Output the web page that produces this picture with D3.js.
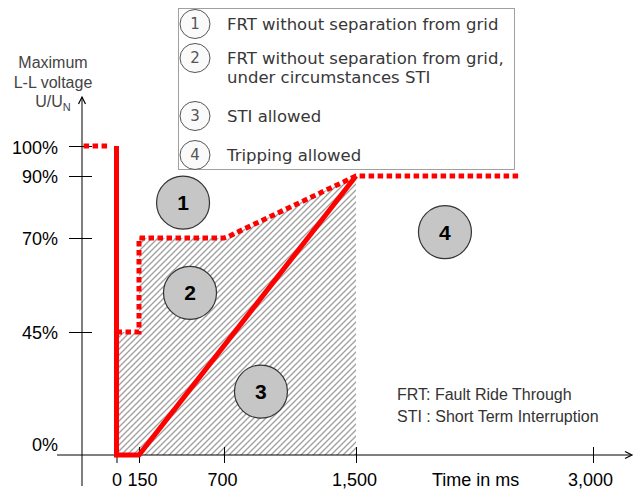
<!DOCTYPE html>
<html><head><meta charset="utf-8">
<script src="https://cdn.jsdelivr.net/npm/d3@7"></script>
<style>body{margin:0;background:#fff}svg{display:block}</style>
</head><body>
<svg id="c" width="640" height="490"></svg>
<script>
// ---- data ----
const xTicks = [0, 150, 700, 1500, 3000];
const yTicks = [0, 45, 70, 90, 100];
const solidLimit = [[0, 100], [0, 0], [150, 0], [1500, 90]];
const dottedPre = [[-210, 100], [-52, 100]];
const dottedLimit = [[0, 45], [150, 45], [150, 70], [700, 70], [730, 70.5], [770, 71.6], [1500, 90], [2540, 90]];
const hatchTop = [[0, 45], [150, 45], [150, 70], [700, 70], [730, 70.5], [770, 71.6], [1500, 90]];
const zoneLabels = ["1", "2", "3", "4"];
const zoneX = [435, 480, 924, 2063];
const zoneY = [81.4, 55.4, 23.2, 71.9];
const legendNums = ["1", "2", "3", "4"];
const legendLines = [["FRT without separation from grid"], ["FRT without separation from grid,", "under circumstances STI"], ["STI allowed"], ["Tripping allowed"]];
const notes = ["FRT: Fault Ride Through", "STI : Short Term Interruption"];

const svg = d3.select("#c");
const x = d3.scaleLinear().domain([-220, 0, 150, 700, 1500, 3000]).range([82, 116.5, 139, 224, 356, 593]);
const y = d3.scaleLinear().domain([0, 45, 70, 90, 100]).range([455, 332, 238, 176, 146]);

// hatch pattern
const defs = svg.append("defs");
const pat = defs.append("pattern").attr("id", "hatch").attr("patternUnits", "userSpaceOnUse")
  .attr("width", 6).attr("height", 6);
pat.append("path").attr("d", "M-1,7 L7,-1 M-1,1 L1,-1 M5,7 L7,5")
  .attr("stroke", "#a0a0a0").attr("stroke-width", 1.35);

const area = d3.area().x(d => x(d[0])).y0(y(0)).y1(d => y(d[1]));
svg.append("path").datum(hatchTop).attr("d", area).attr("fill", "url(#hatch)");

// axes
const font = "'Liberation Sans', Arial, sans-serif";
const xAxis = svg.append("g").attr("transform", `translate(0,${y(0)})`)
  .call(d3.axisBottom(x).tickValues(xTicks).tickFormat(d3.format(",")).tickSize(8).tickPadding(10));
xAxis.select(".domain").remove();
xAxis.selectAll(".tick line").attr("y1", -8).attr("y2", 8).attr("stroke", "#000");
xAxis.selectAll(".tick text").attr("font-family", font).attr("font-size", 18).attr("fill", "#000")
  .attr("dx", d => d === 150 ? 3 : (d === 700 ? -2 : (d === 1500 ? -2 : (d === 3000 ? -3 : 0))));

const yAxis = svg.append("g").attr("transform", `translate(${x(-220)},0)`)
  .call(d3.axisLeft(y).tickValues(yTicks).tickFormat(d => d + "%").tickSize(13).tickPadding(11));
yAxis.select(".domain").remove();
yAxis.selectAll(".tick line").attr("x1", -13).attr("x2", 10).attr("stroke", "#000")
  .attr("opacity", d => d === 0 ? 0 : 1);
yAxis.selectAll(".tick text").attr("font-family", font).attr("font-size", 18).attr("fill", "#000")
  .attr("dy", d => d === 0 ? "-0.25em" : (d === 100 ? "0.42em" : "0.35em"));

// axis lines with arrows
svg.append("line").attr("x1", 57).attr("x2", 631).attr("y1", y(0)).attr("y2", y(0)).attr("stroke", "#000");
svg.append("path").attr("d", `M625,${y(0) - 3.5} L632,${y(0)} L625,${y(0) + 3.5}`).attr("fill", "none").attr("stroke", "#000").attr("stroke-width", 1.2);
svg.append("line").attr("x1", x(-220)).attr("x2", x(-220)).attr("y1", 486).attr("y2", 97).attr("stroke", "#000");
svg.append("path").attr("d", `M${x(-220) - 3.5},104 L${x(-220)},97 L${x(-220) + 3.5},104`).attr("fill", "none").attr("stroke", "#000").attr("stroke-width", 1.2);

// limit curves
const line = d3.line().x(d => x(d[0])).y(d => y(d[1]));
svg.append("path").datum(solidLimit).attr("d", line).attr("fill", "none")
  .attr("stroke", "#ff0000").attr("stroke-width", 5).attr("stroke-linejoin", "miter");
[dottedPre, dottedLimit].forEach(seg => {
  svg.append("path").datum(seg).attr("d", line).attr("fill", "none")
    .attr("stroke", "#ff0000").attr("stroke-width", 5).attr("stroke-dasharray", "5.5,3.5");
});

// zone circles
const zones = svg.append("g");
zoneLabels.forEach((t, i) => {
  zones.append("circle").attr("cx", x(zoneX[i])).attr("cy", y(zoneY[i])).attr("r", 26.5)
    .attr("fill", "#c6c6c6").attr("stroke", "#333").attr("stroke-width", 1.2);
  zones.append("text").attr("x", x(zoneX[i])).attr("y", y(zoneY[i])).attr("dy", "0.36em")
    .attr("text-anchor", "middle").attr("font-family", font).attr("font-weight", "bold")
    .attr("font-size", 21).attr("fill", "#000").text(t);
});

// legend
const lg = svg.append("g");
lg.append("rect").attr("x", 178.5).attr("y", 8.5).attr("width", 336).attr("height", 161)
  .attr("fill", "#fff").attr("stroke", "#a0a0a0");
const legCY = [24, 58, 116, 155];
const legTextY = [[24], [58, 77], [116], [155]];
const lfont = "'DejaVu Sans', Verdana, sans-serif";
legendNums.forEach((n, i) => {
  lg.append("ellipse").attr("cx", 195).attr("cy", legCY[i]).attr("rx", 15).attr("ry", 14.5)
    .attr("fill", "#fafafa").attr("stroke", "#555").attr("stroke-width", 1);
  lg.append("text").attr("x", 195).attr("y", legCY[i]).attr("dy", "0.36em").attr("text-anchor", "middle")
    .attr("font-family", lfont).attr("font-size", 15).attr("fill", "#555").text(n);
  legendLines[i].forEach((s, j) => {
    lg.append("text").attr("x", 227).attr("y", legTextY[i][j]).attr("dy", "0.36em")
      .attr("font-family", lfont).attr("font-size", 16.5).attr("fill", "#383838").text(s);
  });
});

// notes
notes.forEach((s, i) => {
  svg.append("text").attr("x", 397).attr("y", 400 + i * 22).attr("font-family", font)
    .attr("font-size", 16).attr("fill", "#333").text(s);
});

// axis titles
svg.append("text").attr("x", 432).attr("y", 486).attr("font-family", font).attr("font-size", 18)
  .attr("fill", "#000").text("Time in ms");
const yt = svg.append("g").attr("font-family", font).attr("font-size", 16).attr("fill", "#444").attr("text-anchor", "middle");
yt.append("text").attr("x", 53).attr("y", 68).text("Maximum");
yt.append("text").attr("x", 53).attr("y", 88).text("L-L voltage");
const u = yt.append("text").attr("x", 53).attr("y", 107);
u.append("tspan").text("U/U");
u.append("tspan").attr("font-size", 11).attr("dy", 4).text("N");
</script>
</body></html>
